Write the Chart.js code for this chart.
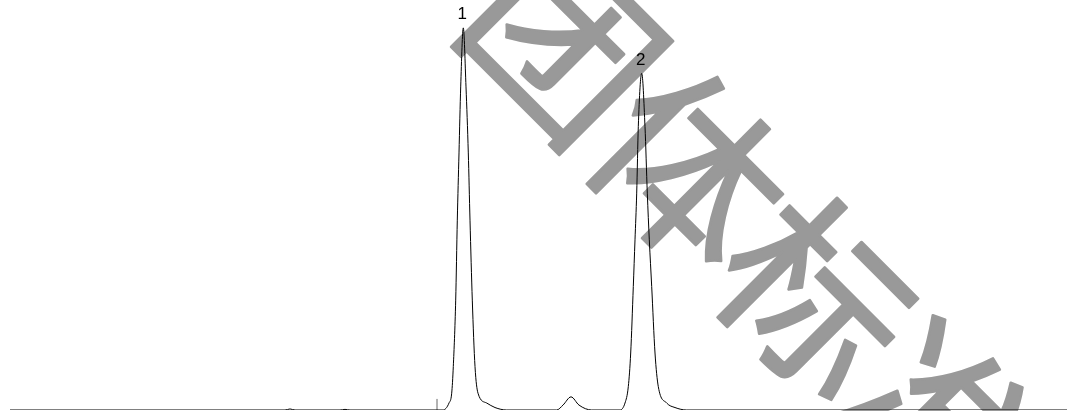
<!DOCTYPE html>
<html>
<head>
<meta charset="utf-8">
<script src="https://cdn.jsdelivr.net/npm/chart.js@4.4.0/dist/chart.umd.min.js"></script>
<style>
  body { margin: 0; background: #fff; }
  #wrap { width: 1067px; height: 411px; position: relative; }
</style>
</head>
<body>
<div id="wrap"><canvas id="graphCanvas"></canvas></div>
<script>
// retention time (min) and detector signal (% of full scale)
var times = [0, 2.75, 2.80, 2.85, 3.30, 3.35, 3.40,
    4.33, 4.39, 4.417, 4.433, 4.457, 4.473, 4.49, 4.507, 4.533, 4.56, 4.583, 4.60, 4.623, 4.65, 4.68, 4.767, 4.85, 4.967,
    5.467, 5.53, 5.61, 5.69, 5.817,
    6.10, 6.15, 6.183, 6.207, 6.233, 6.25, 6.267, 6.283, 6.317, 6.35, 6.373, 6.393, 6.417, 6.45, 6.483, 6.567, 6.65, 6.767,
    10.57];
var signal = [0, 0, 0.25, 0, 0, 0.15, 0,
    0, 1.7, 4.1, 10.6, 26.8, 46.3, 62.7, 78.8, 93.2, 78.8, 62.7, 46.3, 26.8, 10.6, 4.1, 1.7, 0.6, 0,
    0, 1.2, 3.2, 1.2, 0,
    0, 1.7, 5.7, 13.9, 30.1, 41.5, 52.9, 69.1, 82.1, 69.1, 52.9, 41.5, 30.1, 13.9, 5.7, 1.7, 0.6, 0,
    0];

// injection / event marker
var markerTime = [4.27, 4.27];
var markerValue = [0, 2.7];

// peak numbering
var peakTimes = [4.533, 6.317];
var peakLabels = ['1', '2'];

var watermark = '团体标准';

function toPoints(xs, ys) {
    var pts = [];
    for (var i in xs) {
        pts.push({ x: xs[i], y: ys[i] });
    }
    return pts;
}

var watermarkPlugin = {
    id: 'watermark',
    beforeDatasetsDraw: function (chart) {
        var ctx = chart.ctx;
        var chars = watermark.split('');
        var dir = 45.5 * Math.PI / 180; // direction the characters run
        var step = 179;
        ctx.save();
        ctx.fillStyle = '#999999';
        ctx.strokeStyle = '#999999';
        ctx.lineWidth = 2.5;
        ctx.lineJoin = 'round';
        ctx.font = '184px "Noto Sans CJK SC"';
        ctx.textAlign = 'center';
        ctx.textBaseline = 'middle';
        for (var i = 0; i < chars.length; i++) {
            ctx.save();
            ctx.translate(565 + i * step * Math.cos(dir), 41 + i * step * Math.sin(dir));
            ctx.rotate(45 * Math.PI / 180);
            ctx.fillText(chars[i], 0, 0);
            ctx.strokeText(chars[i], 0, 0);
            ctx.restore();
        }
        ctx.restore();
    }
};

var peakLabelPlugin = {
    id: 'peakLabels',
    afterDatasetsDraw: function (chart) {
        var ctx = chart.ctx;
        var xs = chart.scales.x, ys = chart.scales.y;
        ctx.save();
        ctx.fillStyle = '#000';
        ctx.font = '17px "Liberation Sans", Arial, sans-serif';
        ctx.textAlign = 'center';
        ctx.textBaseline = 'bottom';
        for (var i in peakTimes) {
            var idx = times.indexOf(peakTimes[i]);
            var px = xs.getPixelForValue(peakTimes[i]);
            var py = ys.getPixelForValue(signal[idx]);
            ctx.fillText(peakLabels[i], px - 1, py - 5);
        }
        ctx.restore();
    }
};

var graphTarget = document.getElementById('graphCanvas');

var LineGraph = new Chart(graphTarget, {
    type: 'line',
    data: {
        datasets: [
            {
                label: 'signal',
                data: toPoints(times, signal),
                borderColor: '#000',
                borderWidth: 1,
                pointRadius: 0,
                cubicInterpolationMode: 'monotone',
                fill: false
            },
            {
                label: 'marker',
                data: toPoints(markerTime, markerValue),
                borderColor: '#666',
                borderWidth: 1,
                pointRadius: 0,
                fill: false
            }
        ]
    },
    options: {
        animation: false,
        responsive: true,
        maintainAspectRatio: false,
        layout: { padding: { left: 10, right: 0, top: 0, bottom: 1 } },
        plugins: {
            legend: { display: false },
            tooltip: { enabled: false }
        },
        scales: {
            x: { type: 'linear', min: 0, max: 10.57, display: false },
            y: { min: 0, max: 100, display: false }
        }
    },
    plugins: [watermarkPlugin, peakLabelPlugin]
});
</script>
</body>
</html>
